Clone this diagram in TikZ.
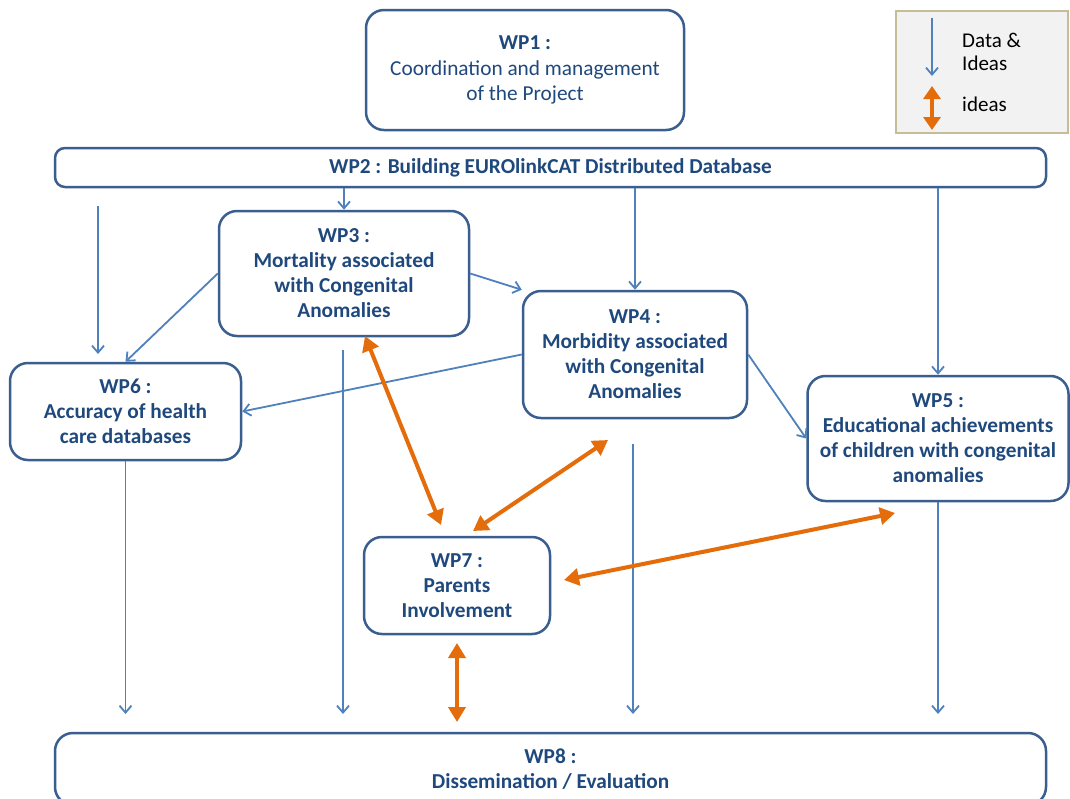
\documentclass[tikz,border=0pt]{standalone}
\usepackage{fontspec}
\setmainfont{Carlito}
\usetikzlibrary{arrows.meta}
\definecolor{txt}{HTML}{1F497D}
\definecolor{bord}{HTML}{3A5F8F}
\definecolor{arr}{HTML}{4F81BD}
\definecolor{org}{HTML}{E46C0A}
\definecolor{legfill}{HTML}{F2F2F2}
\definecolor{legbord}{HTML}{C4BD97}
\begin{document}
\begin{tikzpicture}[x=1pt,y=-1pt,
  wp/.style={draw=bord, line width=2.5pt, rounded corners=18pt, fill=white, text=txt,
    align=center, font=\fontsize{21.3}{25}\selectfont\bfseries, inner sep=0pt},
  flow/.style={draw=arr, line width=1.8pt, -{Straight Barb[length=7pt,width=12pt,line width=1.8pt]}},
  idea/.style={draw=org, line width=4pt, {Triangle[length=15pt,width=17pt]}-{Triangle[length=15pt,width=17pt]}},
  legtext/.style={font=\fontsize{21}{23}\selectfont, text=black, align=left, anchor=west, inner sep=0pt}]
\useasboundingbox (0,0) rectangle (1070,798);
\fill[white] (0,0) rectangle (1070,798);

% legend
\node[draw=legbord, line width=2.5pt, fill=legfill, minimum width=172pt, minimum height=122pt, inner sep=0pt] (legend) at (982,72) {};
\coordinate (l1s) at (932,18);
\coordinate (l1e) at (932,76);
\coordinate (l2s) at (932,86);
\coordinate (l2e) at (932,130);
\draw[flow] (l1s) -- (l1e);
\draw[draw=org, line width=4pt, {Triangle[length=13pt,width=17pt]}-{Triangle[length=13pt,width=17pt]}] (l2s) -- (l2e);
\node[legtext] (ltxt1) at (962,52) {Data \&\\Ideas};
\node[legtext] (ltxt2) at (962,104) {ideas};

% boxes
\node[wp, minimum width=318pt, minimum height=120pt, font=\fontsize{21.3}{25.5}\selectfont] (wp1) at (525,70)
  {\textbf{WP1 :}\\Coordination and management\\of the Project};
\node[wp, rounded corners=10pt, minimum width=991pt, minimum height=39pt] (wp2) at (550.5,167.5)
  {WP2 : Building EUROlinkCAT Distributed Database};
\node[wp, minimum width=250pt, minimum height=125pt] (wp3) at (344,273.5)
  {WP3 :\\Mortality associated\\with Congenital\\Anomalies};
\node[wp, minimum width=224pt, minimum height=127pt] (wp4) at (635,354.5)
  {WP4 :\\Morbidity associated\\with Congenital\\Anomalies};
\node[wp, minimum width=261pt, minimum height=125pt] (wp5) at (938,438.5)
  {WP5 :\\Educational achievements\\of children with congenital\\anomalies};
\node[wp, minimum width=231pt, minimum height=97pt] (wp6) at (125.5,411.5)
  {WP6 :\\Accuracy of health\\care databases};
\node[wp, minimum width=186pt, minimum height=97pt] (wp7) at (457,585.5)
  {WP7 :\\Parents\\Involvement};
\node[wp, minimum width=991pt, minimum height=72pt] (wp8) at (550.5,769)
  {WP8 :\\Dissemination / Evaluation};

% blue flows
\coordinate (bot) at (0,714);
\coordinate (a1s) at (98,206);
\coordinate (a1e) at (98,354);
\coordinate (c3) at (343,350);
\coordinate (c4) at (633,444);
\draw[flow] (wp3.north |- wp2.south) -- (wp3.north);
\draw[flow] (a1s) -- (a1e);
\draw[flow] (wp4.north |- wp2.south) -- (wp4.north);
\draw[flow] (wp5.north |- wp2.south) -- (wp5.north);
\draw[flow] (wp3.west) -- (wp6.north);
\draw[flow] (wp3.east) -- (wp4.north west);
\draw[flow] (wp4.west) -- (wp6.east);
\draw[flow] (wp4.east) -- (wp5.west);
\draw[flow] (wp6.south) -- (wp6.south |- bot);
\draw[flow] (c3) -- (c3 |- bot);
\draw[flow] (c4) -- (c4 |- bot);
\draw[flow] (wp5.south) -- (wp5.south |- bot);

% orange idea arrows
\coordinate (o1a) at (365,336);
\coordinate (o1b) at (441,525);
\coordinate (o2a) at (608,440);
\coordinate (o2b) at (473,531);
\coordinate (o3a) at (895,513);
\coordinate (o3b) at (564,580);
\coordinate (o4a) at (457,643);
\coordinate (o4b) at (457,722);
\draw[idea] (o1a) -- (o1b);
\draw[idea] (o2a) -- (o2b);
\draw[idea] (o3a) -- (o3b);
\draw[idea] (o4a) -- (o4b);
\end{tikzpicture}
\end{document}
